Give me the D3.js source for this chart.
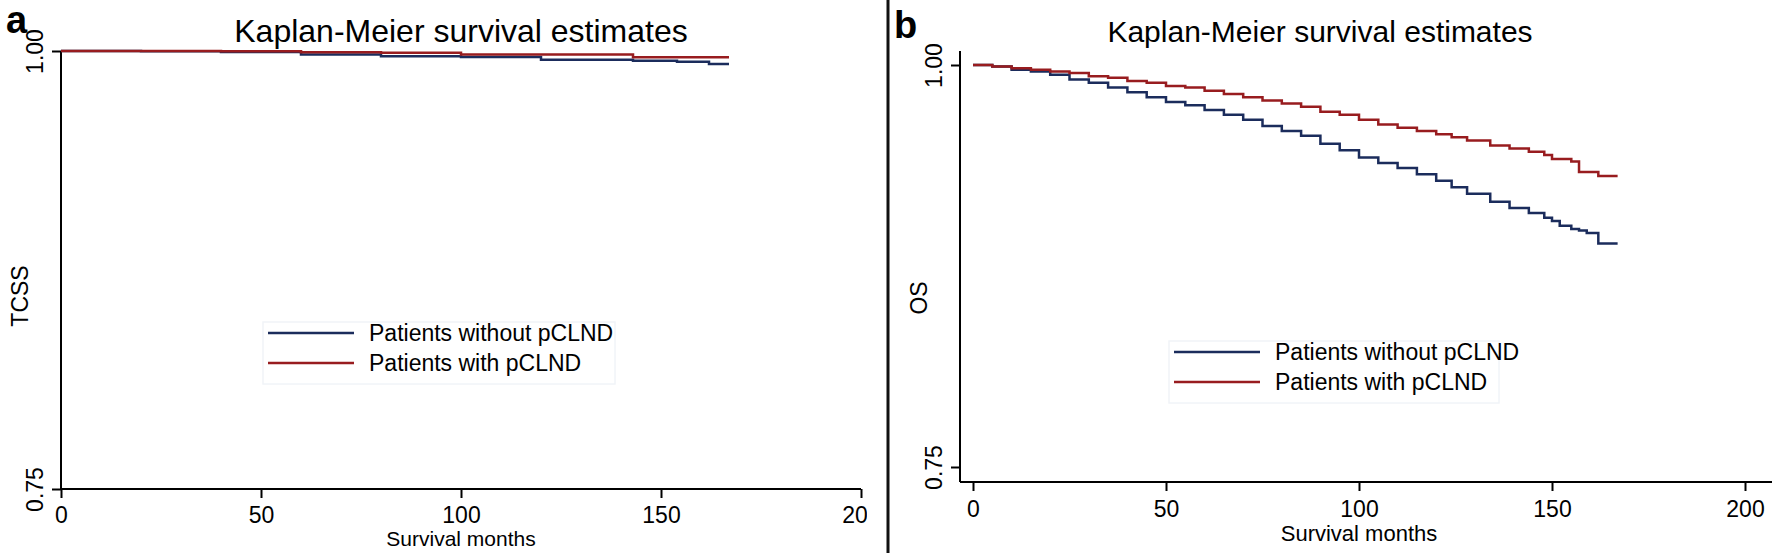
<!DOCTYPE html>
<html>
<head>
  <script src="https://d3js.org/d3.v7.min.js"></script>
  <style>
    body { margin: 0; background: #fff; }
    text { font-family: "Liberation Sans", Arial, sans-serif; fill: #000; }
  </style>
</head>
<body>
  <div id="svgcontainer"></div>
  <script>

    /* data */

    // panel a : TCSS
    var monthsA = [0, 20, 40, 60, 80, 100, 120, 143, 154, 162, 167];
    var tcssWithout = [1.000, 0.9998, 0.9994, 0.998, 0.997, 0.9966, 0.995, 0.9945, 0.9939, 0.9926, 0.9926];
    var tcssWith = [1.000, 1.000, 0.9998, 0.9993, 0.999, 0.998, 0.998, 0.9964, 0.9964, 0.9964, 0.9964];

    // panel b : OS
    var monthsB = [0, 5, 10, 15, 20, 25, 30, 35, 40, 45,
      50, 55, 60, 65, 70, 75, 80, 85, 90, 95,
      100, 105, 110, 115, 120, 124, 128, 134, 139, 144,
      148, 150, 152, 155, 157, 159, 162, 167];
    var osWithout = [1.000, 0.999, 0.997, 0.996, 0.994, 0.991, 0.989, 0.986, 0.983, 0.980,
      0.977, 0.975, 0.972, 0.969, 0.966, 0.962, 0.959, 0.956, 0.951, 0.947,
      0.9425, 0.939, 0.936, 0.932, 0.928, 0.924, 0.920, 0.915, 0.911, 0.908,
      0.905, 0.903, 0.900, 0.898, 0.897, 0.8955, 0.889, 0.889];
    var osWith = [1.000, 0.999, 0.998, 0.997, 0.996, 0.995, 0.993, 0.992, 0.990, 0.989,
      0.987, 0.986, 0.984, 0.982, 0.980, 0.978, 0.976, 0.974, 0.971, 0.969,
      0.966, 0.963, 0.961, 0.959, 0.957, 0.955, 0.953, 0.950, 0.948, 0.946,
      0.944, 0.9415, 0.9415, 0.940, 0.9335, 0.9335, 0.931, 0.931];

    var xTicks = [0, 50, 100, 150, 200];
    var yTicks = [0.75, 1.00];
    var legendLabels = ["Patients without pCLND", "Patients with pCLND"];
    var titleText = "Kaplan-Meier survival estimates";
    var xTitle = "Survival months";

    var colors = ["#1b2c5c", "#981c1f"]; // without, with

    /* svg set up */
    var width = 1772, height = 553;

    var svg = d3.select("#svgcontainer")
      .append("svg")
      .attr("width", width)
      .attr("height", height);

    svg.append("rect").attr("width", width).attr("height", height).attr("fill", "#fff");

    // panel a is cropped on the right in the original figure
    svg.append("clipPath").attr("id", "clipA")
      .append("rect").attr("x", 0).attr("y", 0).attr("width", 867).attr("height", height);

    /*
      draw one KM panel
    */
    function drawPanel(g, p, months, seriesList, yLabel) {

      var x = d3.scaleLinear().domain([0, 200]).range([p.x0, p.x1]);
      var y = d3.scaleLinear().domain([0.75, 1]).range([p.y0, p.y1]);

      // axis lines
      g.append("line")
        .attr("x1", p.yAxisX).attr("x2", p.yAxisX)
        .attr("y1", p.yAxisTop).attr("y2", p.xAxisY)
        .attr("stroke", "#000").attr("stroke-width", 2);
      g.append("line")
        .attr("x1", p.yAxisX).attr("x2", p.xAxisEnd)
        .attr("y1", p.xAxisY).attr("y2", p.xAxisY)
        .attr("stroke", "#000").attr("stroke-width", 2);

      // y ticks, labels turned like stata does
      var gy = g.append("g")
        .attr("transform", "translate(" + p.yAxisX + ",0)")
        .call(d3.axisLeft(y).tickValues(yTicks).tickFormat(d3.format(".2f")).tickSize(9).tickSizeOuter(0));
      gy.select(".domain").remove();
      gy.selectAll("line").attr("stroke", "#000").attr("stroke-width", 2);
      gy.selectAll("text")
        .attr("x", null).attr("dy", null)
        .attr("transform", "translate(-18,0) rotate(-90)")
        .attr("text-anchor", "middle")
        .style("font-size", "23px")
        .style("fill", "#000");

      // x ticks
      var gx = g.append("g")
        .attr("transform", "translate(0," + p.xAxisY + ")")
        .call(d3.axisBottom(x).tickValues(xTicks).tickSize(9).tickSizeOuter(0));
      gx.select(".domain").remove();
      gx.selectAll("line").attr("stroke", "#000").attr("stroke-width", 2);
      gx.selectAll("text")
        .attr("y", p.tickLabelDy).attr("dy", null)
        .style("font-size", "23px")
        .style("fill", "#000");

      // titles
      g.append("text")
        .attr("x", p.titleX).attr("y", 42)
        .attr("text-anchor", "middle")
        .style("font-size", p.titleSize + "px")
        .text(titleText);

      g.append("text")
        .attr("x", x(100)).attr("y", p.xTitleY)
        .attr("text-anchor", "middle")
        .style("font-size", p.xTitleSize + "px")
        .text(xTitle);

      g.append("text")
        .attr("transform", "translate(" + p.yTitleX + "," + p.yTitleY + ") rotate(-90)")
        .attr("text-anchor", "middle")
        .style("font-size", "23px")
        .text(yLabel);

      // survival curves
      var line = d3.line()
        .x(function (d) { return x(d[0]); })
        .y(function (d) { return y(d[1]); })
        .curve(d3.curveStepAfter);

      seriesList.forEach(function (vals, i) {
        g.append("path")
          .datum(months.map(function (m, j) { return [m, vals[j]]; }))
          .attr("d", line)
          .attr("fill", "none")
          .attr("stroke", colors[i])
          .attr("stroke-width", 2.5);
      });

      // legend
      g.append("rect")
        .attr("x", p.legX - 5).attr("y", p.legY - 11)
        .attr("width", p.legW).attr("height", 62)
        .attr("fill", "#fff")
        .attr("stroke", "#f1f4f8").attr("stroke-width", 1.5);

      legendLabels.forEach(function (lab, i) {
        var ly = p.legY + i * 30;
        g.append("line")
          .attr("x1", p.legX).attr("x2", p.legX + 86)
          .attr("y1", ly).attr("y2", ly)
          .attr("stroke", colors[i]).attr("stroke-width", 2.5);
        g.append("text")
          .attr("x", p.legX + 101).attr("y", ly + 8)
          .style("font-size", "23px")
          .text(lab);
      });
    }

    var panelA = svg.append("g").attr("clip-path", "url(#clipA)");
    drawPanel(panelA, {
      x0: 61, x1: 861, y0: 489, y1: 51,
      yAxisX: 61, yAxisTop: 51, xAxisY: 489, xAxisEnd: 861,
      tickLabelDy: 34, titleX: 461, titleSize: 32, xTitleY: 546, xTitleSize: 21,
      yTitleX: 28, yTitleY: 296,
      legX: 268, legY: 333, legW: 352
    }, monthsA, [tcssWithout, tcssWith], "TCSS");

    var panelB = svg.append("g");
    drawPanel(panelB, {
      x0: 973, x1: 1745, y0: 467, y1: 65,
      yAxisX: 960, yAxisTop: 51, xAxisY: 482, xAxisEnd: 1772,
      tickLabelDy: 35, titleX: 1320, titleSize: 30, xTitleY: 541, xTitleSize: 22,
      yTitleX: 927, yTitleY: 298,
      legX: 1174, legY: 352, legW: 330
    }, monthsB, [osWithout, osWith], "OS");

    // panel letters
    svg.append("text").attr("x", 6).attr("y", 33)
      .style("font-size", "38px").style("font-weight", "bold").text("a");
    svg.append("text").attr("x", 894).attr("y", 38)
      .style("font-size", "38px").style("font-weight", "bold").text("b");

    // separator between the panels
    svg.append("line")
      .attr("x1", 888).attr("x2", 888).attr("y1", 0).attr("y2", height)
      .attr("stroke", "#111").attr("stroke-width", 3);

  </script>
</body>
</html>
